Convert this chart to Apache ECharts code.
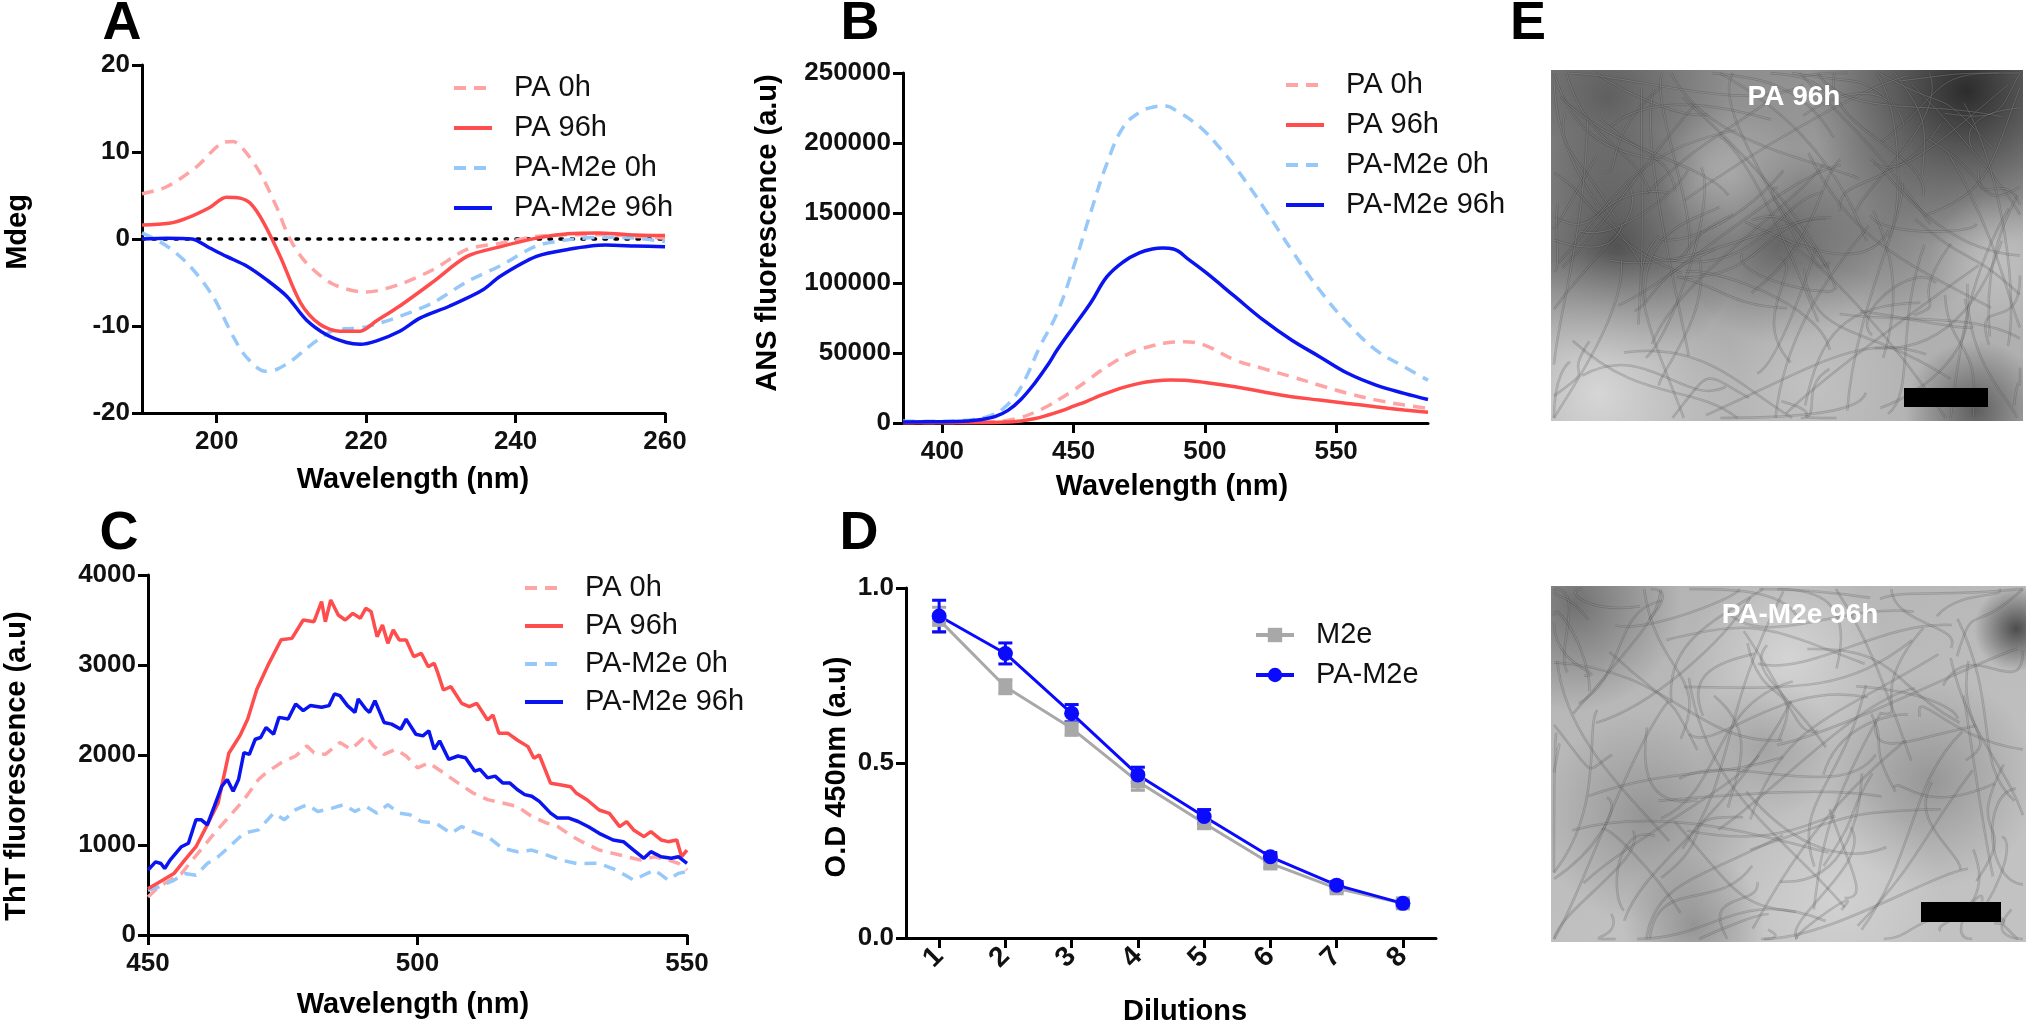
<!DOCTYPE html>
<html><head><meta charset="utf-8">
<script src="https://cdn.jsdelivr.net/npm/echarts@6/dist/echarts.min.js"></script>
<style>html,body{margin:0;padding:0;background:#fff}#c{width:2032px;height:1027px}</style>
</head><body><div id="c"></div>
<script>
const FONT = '"Liberation Sans", Arial, Helvetica, sans-serif';
const spectraNames = ['PA 0h', 'PA 96h', 'PA-M2e 0h', 'PA-M2e 96h'];
const dilNames = ['M2e', 'PA-M2e'];

// ---------- Panel A : CD spectra (wavelength nm, mdeg) ----------
const cdPA0h = [[190,5.2],[193.3,6.0],[197.3,8.3],[200.9,11.1],[202.2,11.2],[203.5,10.4],[205.8,7.6],[208,3.7],[209.8,0],[212,-2.75],[215.6,-5.2],[220,-6.1],[224.5,-5.2],[229,-3.5],[233.5,-1.2],[237.9,-0.5],[242.8,0.3],[247,0.5],[252,0.5],[256,0.3],[260,0.1]];
const cdPA96h = [[190,1.6],[193.6,1.8],[196,2.4],[199,3.6],[201.3,4.8],[203.1,4.7],[204.5,4.1],[206.2,2.0],[208.5,-2.0],[211.2,-7.3],[213.8,-9.8],[216.5,-10.6],[219.2,-10.6],[221.4,-9.4],[224.5,-7.7],[229,-4.9],[233.5,-2.0],[237.9,-0.9],[242.8,0.1],[247,0.6],[251,0.7],[255,0.5],[260,0.4]];
const cdPAM2e0h = [[190,0.7],[193.3,-0.8],[196.4,-3.1],[199.5,-6.6],[202.2,-11.2],[204,-13.6],[206.5,-15.2],[208,-15.0],[210,-14.0],[212,-12.6],[214,-11.3],[216,-10.4],[218,-10.3],[220,-10.1],[224.5,-8.9],[229,-7.3],[233.5,-4.9],[237.9,-3.1],[242.8,-0.8],[247,-0.1],[252,0.2],[256,0.1],[260,-0.3]];
const cdPAM2e96h = [[190,0],[193.3,0.1],[196.7,0],[199,-1.0],[201.3,-2.0],[204,-3.1],[206.7,-4.7],[209.4,-6.6],[212,-9.3],[214.7,-11.0],[217.4,-11.9],[219.2,-12.1],[221.4,-11.7],[224.5,-10.6],[227.2,-9.1],[231.2,-7.7],[235.7,-5.8],[237.9,-4.3],[242.8,-2.0],[247,-1.2],[252,-0.7],[256,-0.8],[260,-0.9]];
const cdZero = [[190,0],[260,0]];
const cdTicks = [200,220,240,260];

// ---------- Panel B : ANS fluorescence ----------
const ansPA0h = [[385,300],[410,500],[420,1000],[425,2000],[430,4000],[435,7500],[440,12000],[445,17500],[450,23500],[455,30000],[460,37000],[465,43000],[470,48500],[475,52500],[479.3,54800],[485,57200],[492,58000],[500,55500],[511.5,45000],[522,39000],[533,33100],[543.7,27000],[554.4,21200],[565,16500],[575.9,12900],[585,10500]];
const ansPA96h = [[385,200],[420,300],[425,700],[430,1500],[435,3000],[440,5500],[445,8500],[450,12000],[455,15500],[460,19500],[465,23000],[470,26000],[475,28300],[480,29800],[487,30700],[492,30500],[500,29000],[511.5,25900],[522,22300],[533,18800],[543.7,16400],[554.4,14000],[565,11600],[575.9,9300],[585,7600]];
const ansPAM2e0h = [[385,1500],[395,1200],[405,1500],[412,2500],[418,5000],[423,10000],[428,20000],[432,33000],[437,54000],[443.7,78400],[450,111600],[456.4,149800],[462.7,185500],[469,211600],[475.5,222400],[480,225500],[485,226500],[490,222000],[495,216000],[500.7,207000],[505,198000],[511.5,183000],[522.2,154500],[533,123600],[543.7,95000],[554.4,71200],[565.2,52100],[575.9,40200],[585,30500]];
const ansPAM2e96h = [[385,800],[400,900],[410,1500],[415,2500],[420,4500],[425,9000],[430,17000],[435,28000],[440,41000],[443.7,52100],[450,68800],[456.4,85500],[462.7,104500],[469,115200],[475,121500],[480,124300],[484,125000],[488,124300],[494,116500],[500.7,107000],[511.5,90200],[522.2,73600],[533,59300],[543.7,47400],[554.4,35500],[565.2,27100],[575.9,21200],[585,16800]];
const ansTicks = [400,450,500,550];

// ---------- Panel C : ThT fluorescence ----------
const thtPA0h = [[450,422],[452,534],[454.1,608],[456.2,683],[458.2,832],[460.3,981],[462.3,1131],[465.1,1317],[467.8,1504],[470.5,1728],[471.9,1802],[474.7,1914],[477.4,1989],[479.5,2101],[480.8,2026],[482.9,2007],[485.6,2138],[487.7,2063],[490.4,2213],[491.8,2101],[493.8,2007],[495.9,2063],[497.9,1989],[500,1858],[502.1,1914],[504.8,1802],[507.5,1690],[510.3,1578],[513,1504],[515.8,1466],[518.5,1429],[521.2,1317],[524,1243],[526,1205],[528.8,1093],[531,1020],[533.7,944],[536.3,907],[538.8,870],[541.4,833],[544,870],[546.5,833],[548.4,796],[550,722]];
const thtPA96h = [[450,515],[452.7,608],[454.8,683],[456.8,832],[458.9,981],[461,1224],[463,1466],[465,2020],[467.1,2220],[468.5,2400],[470.2,2730],[472.2,2990],[474.7,3280],[476.7,3296],[478.8,3500],[480.8,3481],[482.2,3704],[482.9,3481],[483.9,3722],[485.3,3556],[486.6,3500],[488,3574],[489.4,3519],[490.4,3630],[491.4,3593],[492.5,3315],[493.5,3444],[494.5,3241],[495.5,3389],[496.6,3278],[497.9,3278],[499.3,3093],[500.7,3130],[502,2981],[503.1,3019],[503.8,2907],[504.8,2722],[506.2,2759],[508.2,2574],[509.6,2537],[511,2574],[513,2389],[514,2444],[515.1,2241],[516.8,2241],[518.5,2167],[520.5,2093],[521.6,1963],[522.6,2000],[524.7,1685],[526.7,1667],[528.4,1648],[529.5,1574],[531.5,1500],[533.7,1389],[535.6,1352],[537.5,1204],[538.8,1259],[540.1,1167],[542,1093],[543.3,1148],[545.2,1056],[546.5,1037],[548.1,1056],[549,870],[550,944]];
const thtPAM2e0h = [[450,496],[452,534],[454.8,608],[456.8,683],[458.9,664],[461,795],[463,869],[465.1,981],[467.8,1131],[470.5,1168],[473.3,1354],[475.3,1280],[477.4,1392],[479.5,1448],[481.5,1373],[484.2,1410],[486.3,1448],[488.4,1373],[490.4,1429],[492.5,1354],[494.5,1448],[496.6,1354],[498.6,1336],[500.7,1261],[503.4,1243],[506.2,1131],[508.2,1205],[511,1131],[513,1093],[515.8,963],[518.5,925],[521.2,944],[524,888],[526.7,832],[529.5,795],[533.7,796],[536.9,722],[540.1,611],[542,667],[544,722],[546.5,611],[548.4,685],[550,704]];
const thtPAM2e96h = [[450,720],[451.4,813],[452.4,795],[453.1,739],[454.1,832],[456.2,981],[457.5,1019],[458.9,1280],[459.9,1280],[461,1224],[462.3,1429],[463.7,1653],[464.7,1728],[465.8,1597],[466.8,1728],[467.8,2026],[468.8,2007],[469.9,2175],[470.9,2194],[471.9,2306],[473.3,2231],[474.3,2418],[476,2399],[477.4,2567],[478.8,2493],[480.1,2549],[482.2,2530],[483.6,2549],[484.6,2679],[485.6,2660],[487,2549],[488.4,2474],[489,2623],[490.4,2511],[491.1,2474],[492.1,2604],[493.8,2362],[495.2,2343],[496.9,2287],[497.9,2399],[499.7,2231],[501,2213],[502.1,2269],[503.1,2063],[504.1,2157],[505.8,1951],[507.5,1989],[508.9,1970],[510.6,1821],[511.6,1840],[513,1746],[514.4,1765],[515.8,1690],[517.1,1690],[518.5,1616],[519.9,1560],[521.2,1541],[522.6,1485],[524.7,1354],[526,1299],[528.1,1299],[529.8,1261],[531.8,1200],[533.7,1130],[536.3,1056],[538.2,1037],[540.1,944],[542,852],[543.3,926],[545.2,870],[547.1,852],[548.4,870],[550,796]];

// ---------- Panel D : ELISA dilutions ----------
const dilutions = [1,2,3,4,5,6,7,8];
const odM2e = [0.909,0.718,0.599,0.447,0.328,0.213,0.142,0.099];
const errM2e = [0.036,0.02,0.02,0.025,0.015,0.012,0.01,0.01];
const odPAM2e = [0.92,0.813,0.642,0.466,0.347,0.232,0.151,0.099];
const errPAM2e = [0.045,0.03,0.025,0.022,0.02,0.012,0.01,0.01];

// ---------- styling ----------
const cPink = '#ffa4a4', cRed = '#ff4c4c', cLight = '#96c8fa', cBlue = '#0a14f0';
const cGray = '#a8a8a8', cDBlue = '#0a0aff';
const DASH = [12, 8];
const plain = v => String(v);

function xAx(gi, min, max, ticks, extra) {
  return Object.assign({
    type: 'value', gridIndex: gi, min: min, max: max,
    axisLine: { show: true, onZero: false, lineStyle: { color: '#000', width: 3 } },
    axisTick: { show: true, customValues: ticks, length: 10, lineStyle: { color: '#000', width: 3 } },
    axisLabel: { customValues: ticks, color: '#111', fontFamily: FONT, fontWeight: 'bold', fontSize: 26, margin: 16, formatter: plain },
    splitLine: { show: false }
  }, extra || {});
}
function yAx(gi, min, max, interval, fmt) {
  return {
    type: 'value', gridIndex: gi, min: min, max: max, interval: interval,
    axisLine: { show: true, onZero: false, lineStyle: { color: '#000', width: 3 } },
    axisTick: { show: true, length: 10, lineStyle: { color: '#000', width: 3 } },
    axisLabel: { color: '#111', fontFamily: FONT, fontWeight: 'bold', fontSize: 26, margin: 12, formatter: fmt || plain },
    splitLine: { show: false }
  };
}
function spec(name, data, gi, color, dashed, smooth) {
  return {
    type: 'line', name: name, data: data, xAxisIndex: gi, yAxisIndex: gi,
    symbol: 'none', smooth: smooth, animation: false,
    lineStyle: { color: color, width: 3.5, type: dashed ? DASH : 'solid' },
    itemStyle: { color: color }
  };
}
function errSeries(name, vals, errs, color) {
  const data = dilutions.map((d, i) => [d, vals[i] - errs[i], vals[i] + errs[i]]);
  return {
    type: 'custom', name: name, xAxisIndex: 3, yAxisIndex: 3, data: data,
    encode: { x: 0, y: [1, 2] }, animation: false, silent: true,
    renderItem: function (params, api) {
      const x = api.value(0), lo = api.value(1), hi = api.value(2);
      const p1 = api.coord([x, hi]), p2 = api.coord([x, lo]);
      const w = 7, st = { stroke: color, lineWidth: 3 };
      return { type: 'group', children: [
        { type: 'line', shape: { x1: p1[0], y1: p1[1], x2: p2[0], y2: p2[1] }, style: st },
        { type: 'line', shape: { x1: p1[0] - w, y1: p1[1], x2: p1[0] + w, y2: p1[1] }, style: st },
        { type: 'line', shape: { x1: p2[0] - w, y1: p2[1], x2: p2[0] + w, y2: p2[1] }, style: st }
      ] };
    }
  };
}
function legendAt(left, top, names, gap, ih, hideSymbol) {
  const lg = {
    left: left, top: top, orient: 'vertical', data: names,
    itemWidth: 38, itemHeight: ih || 14, itemGap: gap, selectedMode: false,
    lineStyle: { width: 4 },
    textStyle: { fontFamily: FONT, fontSize: 29, color: '#111', lineHeight: 30, padding: [0, 0, 0, 17] }
  };
  if (hideSymbol) lg.itemStyle = { color: 'rgba(0,0,0,0)', borderWidth: 0, opacity: 0 };
  return lg;
}
function txt(text, x, y, size, rot, color, weight) {
  return { type: 'text', x: x, y: y, rotation: rot || 0, silent: true,
    style: { text: text, fill: color || '#000', font: (weight || 'bold') + ' ' + size + 'px ' + FONT,
      textAlign: 'center', textVerticalAlign: 'middle' } };
}
// Micrograph stand-in: grey shading plus a deterministic fibre texture (decoration, not data)
function micro(x, y, w, h, top, bottom, patches, seed, nFib) {
  const kids = [{ type: 'rect', shape: { x: x, y: y, width: w, height: h },
    style: { fill: { type: 'linear', x: 0, y: 0, x2: 0.3, y2: 1, colorStops: [{ offset: 0, color: top }, { offset: 1, color: bottom }] } } }];
  patches.forEach(p => kids.push({ type: 'rect', shape: { x: x, y: y, width: w, height: h },
    style: { fill: { type: 'radial', x: p[0], y: p[1], r: p[2], colorStops: [{ offset: 0, color: p[3] }, { offset: 1, color: p[3].replace(/[\d.]+\)$/, '0)') }] } } }));
  let s = seed;
  const rnd = () => { s = (s * 1103515245 + 12345) % 2147483648; return s / 2147483648; };
  const cl = (v, a, b) => Math.max(a, Math.min(b, v));
  for (let i = 0; i < nFib; i++) {
    const ax = x + 4 + rnd() * (w - 8), ay = y + 4 + rnd() * (h - 8);
    const ang = rnd() * Math.PI * 2, len = 80 + rnd() * 200;
    const bx = cl(ax + Math.cos(ang) * len, x + 3, x + w - 3), by = cl(ay + Math.sin(ang) * len, y + 3, y + h - 3);
    const c1x = cl((ax * 2 + bx) / 3 + (rnd() - 0.5) * 90, x + 3, x + w - 3), c1y = cl((ay * 2 + by) / 3 + (rnd() - 0.5) * 90, y + 3, y + h - 3);
    const c2x = cl((ax + bx * 2) / 3 + (rnd() - 0.5) * 90, x + 3, x + w - 3), c2y = cl((ay + by * 2) / 3 + (rnd() - 0.5) * 90, y + 3, y + h - 3);
    const sh = { x1: ax, y1: ay, x2: bx, y2: by, cpx1: c1x, cpy1: c1y, cpx2: c2x, cpy2: c2y };
    kids.push({ type: 'bezierCurve', shape: sh, style: { stroke: 'rgba(40,40,40,0.22)', lineWidth: 2.5, fill: null } });
    kids.push({ type: 'bezierCurve', shape: sh, style: { stroke: 'rgba(240,240,240,0.25)', lineWidth: 0.8, fill: null } });
  }
  return { type: 'group', silent: true, children: kids };
}

const R90 = Math.PI / 2;
const option = {
  backgroundColor: '#fff',
  animation: false,
  grid: [
    { left: 142, top: 65, width: 523, height: 348 },
    { left: 903, top: 73, width: 525, height: 350 },
    { left: 148, top: 575, width: 539, height: 360 },
    { left: 906, top: 588, width: 530, height: 350 }
  ],
  xAxis: [
    xAx(0, 190, 260, cdTicks),
    xAx(1, 385, 585, ansTicks),
    xAx(2, 450, 550, [450, 500, 550]),
    xAx(3, 0.5, 8.5, dilutions, { axisLabel: { customValues: dilutions, color: '#111', fontFamily: FONT, fontWeight: 'bold', fontSize: 28, margin: 14, rotate: 45 } })
  ],
  yAxis: [
    yAx(0, -20, 20, 10),
    yAx(1, 0, 250000, 50000),
    yAx(2, 0, 4000, 1000),
    yAx(3, 0, 1, 0.5, v => v.toFixed(1))
  ],
  legend: [
    legendAt(447, 68, spectraNames, 10, 14, true),
    legendAt(1279, 65, spectraNames, 10, 14, true),
    legendAt(518, 568, spectraNames, 8, 14, true),
    legendAt(1249, 615, dilNames, 10, 18, false)
  ],
  series: [
    { type: 'line', name: 'zero', data: cdZero, xAxisIndex: 0, yAxisIndex: 0, symbol: 'none', silent: true,
      lineStyle: { color: '#000', width: 3.5, type: [2.5, 8.5], cap: 'round' } },
    spec('PA 0h', cdPA0h, 0, cPink, true, 0.3),
    spec('PA-M2e 0h', cdPAM2e0h, 0, cLight, true, 0.3),
    spec('PA 96h', cdPA96h, 0, cRed, false, 0.3),
    spec('PA-M2e 96h', cdPAM2e96h, 0, cBlue, false, 0.3),

    spec('PA 0h', ansPA0h, 1, cPink, true, 0.4),
    spec('PA-M2e 0h', ansPAM2e0h, 1, cLight, true, 0.4),
    spec('PA 96h', ansPA96h, 1, cRed, false, 0.4),
    spec('PA-M2e 96h', ansPAM2e96h, 1, cBlue, false, 0.4),

    spec('PA 0h', thtPA0h, 2, cPink, true, false),
    spec('PA-M2e 0h', thtPAM2e0h, 2, cLight, true, false),
    spec('PA 96h', thtPA96h, 2, cRed, false, false),
    spec('PA-M2e 96h', thtPAM2e96h, 2, cBlue, false, false),

    errSeries('M2e err', odM2e, errM2e, cGray),
    { type: 'line', name: 'M2e', data: dilutions.map((d, i) => [d, odM2e[i]]), xAxisIndex: 3, yAxisIndex: 3,
      symbol: 'rect', symbolSize: 14, lineStyle: { color: cGray, width: 3 }, itemStyle: { color: cGray } },
    errSeries('PA-M2e err', odPAM2e, errPAM2e, cDBlue),
    { type: 'line', name: 'PA-M2e', data: dilutions.map((d, i) => [d, odPAM2e[i]]), xAxisIndex: 3, yAxisIndex: 3,
      symbol: 'circle', symbolSize: 15, lineStyle: { color: cDBlue, width: 3 }, itemStyle: { color: cDBlue } }
  ],
  graphic: { elements: [
    micro(1551, 70, 472, 351, '#868686', '#b0b0b0', [
      [0.88, 0.06, 0.45, 'rgba(25,25,25,0.85)'], [0.12, 0.08, 0.35, 'rgba(60,60,60,0.55)'],
      [0.14, 0.5, 0.35, 'rgba(35,35,35,0.6)'], [0.48, 0.5, 0.28, 'rgba(45,45,45,0.5)'],
      [0.7, 0.45, 0.3, 'rgba(70,70,70,0.4)'], [0.1, 0.92, 0.4, 'rgba(225,225,225,0.8)'],
      [0.55, 0.9, 0.35, 'rgba(205,205,205,0.6)'], [0.38, 0.3, 0.2, 'rgba(190,190,190,0.5)'],
      [0.95, 0.55, 0.2, 'rgba(210,210,210,0.5)'], [0.9, 0.97, 0.2, 'rgba(40,40,40,0.6)']
    ], 12345, 110),
    micro(1551, 586, 475, 356, '#b2b2b2', '#c2c2c2', [
      [0.05, 0.05, 0.3, 'rgba(60,60,60,0.55)'], [0.98, 0.12, 0.12, 'rgba(30,30,30,0.7)'],
      [0.2, 0.65, 0.3, 'rgba(90,90,90,0.4)'], [0.8, 0.55, 0.3, 'rgba(90,90,90,0.4)'],
      [0.5, 0.2, 0.28, 'rgba(235,235,235,0.55)'], [0.6, 0.88, 0.3, 'rgba(225,225,225,0.5)'],
      [0.45, 0.45, 0.2, 'rgba(120,120,120,0.35)'], [0.3, 0.95, 0.2, 'rgba(80,80,80,0.4)']
    ], 67890, 100),
    { type: 'rect', shape: { x: 1904, y: 388, width: 84, height: 19 }, style: { fill: '#000' }, silent: true },
    { type: 'rect', shape: { x: 1921, y: 902, width: 80, height: 20 }, style: { fill: '#000' }, silent: true },
    txt('PA 96h', 1794, 97, 28, 0, '#fff'),
    txt('PA-M2e 96h', 1800, 615, 28, 0, '#fff'),

    txt('A', 122, 24, 54), txt('B', 860, 24, 54), txt('C', 119, 534, 54), txt('D', 859, 534, 54), txt('E', 1528, 24, 54),
    txt('Mdeg', 18, 232, 29, R90),
    txt('Wavelength (nm)', 413, 480, 29),
    txt('ANS fluorescence (a.u)', 768, 233, 29, R90),
    txt('Wavelength (nm)', 1172, 487, 29),
    txt('ThT fluorescence (a.u)', 17, 766, 29, R90),
    txt('Wavelength (nm)', 413, 1005, 29),
    txt('O.D 450nm (a.u)', 837, 767, 29, R90),
    txt('Dilutions', 1185, 1012, 29)
  ] }
};
const chart = echarts.init(document.getElementById('c'), null, { renderer: 'canvas' });
chart.setOption(option);
</script></body></html>
